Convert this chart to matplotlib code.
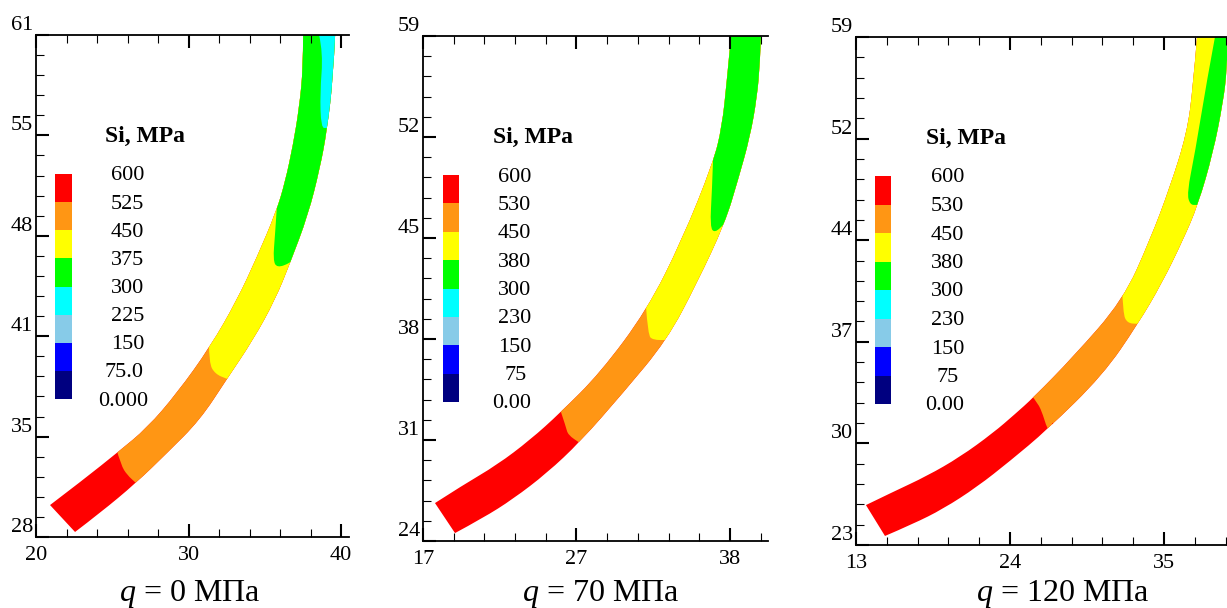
import matplotlib
matplotlib.use('Agg')
import matplotlib.pyplot as plt
from matplotlib.patches import PathPatch
from matplotlib.path import Path
from matplotlib.ticker import AutoMinorLocator
from matplotlib.transforms import ScaledTranslation

plt.rcParams['font.family'] = ['Liberation Serif', 'DejaVu Sans']
plt.rcParams['mathtext.fontset'] = 'custom'
plt.rcParams['mathtext.rm'] = 'Liberation Serif'
plt.rcParams['mathtext.it'] = 'Liberation Serif:italic'

W, H = 1227, 608
colors = ['#ff0000', '#ff9614', '#ffff00', '#00ff00', '#00ffff', '#87cbe8', '#0000ff', '#000080']

# --- q = 0
inner1_x = [20.92, 23.08, 25.38, 27.28, 29.25, 31.41, 33.18, 34.49, 35.74, 36.33, 36.85, 37.25, 37.51, 37.51]
inner1_y = [30.10, 31.75, 33.59, 35.17, 37.47, 40.49, 43.58, 46.41, 49.37, 51.34, 53.77, 56.21, 58.83, 61.00]
outer1_x = [39.61, 39.48, 39.08, 38.62, 37.84, 36.66, 35.67, 34.23, 32.52, 30.75, 28.59, 26.56, 24.20, 22.56]
outer1_y = [61.00, 58.18, 54.76, 52.26, 49.17, 46.01, 43.58, 40.95, 38.39, 35.69, 33.52, 31.55, 29.58, 28.33]
zones1 = [
    ('#ff9614', [25.25, 25.57, 25.97, 26.56, 26.95], [33.85, 32.73, 32.08, 31.55, 31.16]),
    ('#ffff00', [31.34, 31.34, 31.74, 32.52, 32.92], [40.82, 39.44, 38.72, 38.39, 38.26]),
    ('#00ff00', [35.80, 35.67, 35.54, 35.80, 36.66, 37.11], [49.83, 47.86, 46.21, 45.69, 46.01, 46.34]),
    ('#00ffff', [38.56, 38.82, 38.62, 38.69, 39.08, 39.93], [61.00, 59.82, 57.19, 54.89, 54.89, 54.89]),
]
xticks1 = [20, 30, 40]
xlabels1 = ['20', '30', '40']
yticks1 = [28, 34.6, 41.2, 47.8, 54.4, 61]
ylabels1 = ['28', '35', '41', '48', '55', '61']
levels1 = ['600', '525', '450', '375', '300', '225', '150', '75.0', '0.000']

# --- q = 70
inner2_x = [17.82, 19.74, 22.06, 24.32, 26.37, 29.11, 32.32, 34.72, 36.84, 37.45, 37.79, 38.07]
inner2_y = [26.63, 27.88, 29.27, 31.00, 32.87, 35.64, 40.01, 44.86, 50.20, 52.69, 55.95, 59.00]
outer2_x = [40.12, 40.05, 39.85, 39.37, 38.55, 37.66, 35.74, 33.69, 30.68, 27.74, 25.48, 23.16, 21.10, 19.19]
outer2_y = [59.00, 57.13, 54.77, 52.00, 49.02, 46.04, 41.88, 37.93, 34.26, 30.86, 28.71, 26.91, 25.59, 24.55]
zones2 = [
    ('#ff9614', [26.37, 26.78, 26.92, 27.74, 28.42], [33.15, 31.90, 31.35, 30.79, 30.31]),
    ('#ffff00', [32.25, 32.39, 32.73, 33.69, 34.58], [40.29, 38.28, 37.93, 37.93, 37.93]),
    ('#00ff00', [36.84, 36.77, 36.63, 36.97, 37.66, 38.34], [50.40, 48.32, 45.76, 45.34, 46.04, 46.59]),
]
xticks2 = [17, 27.5, 38]
xlabels2 = ['17', '27', '38']
yticks2 = [24, 31, 38, 45, 52, 59]
ylabels2 = ['24', '31', '38', '45', '52', '59']
levels2 = ['600', '530', '450', '380', '300', '230', '150', '75', '0.00']

# --- q = 120
inner3_x = [13.71, 15.64, 18.07, 20.43, 22.79, 24.36, 25.64, 28.50, 32.07, 34.00, 35.43, 36.64, 37.07, 37.36]
inner3_y = [25.83, 26.76, 27.89, 29.24, 30.94, 32.28, 33.42, 36.32, 40.36, 44.62, 48.37, 52.20, 55.46, 59.00]
outer3_x = [39.57, 39.50, 39.21, 38.50, 37.43, 36.36, 34.86, 33.14, 30.64, 26.64, 24.00, 21.64, 19.21, 17.07, 15.07]
outer3_y = [59.00, 56.66, 54.32, 50.78, 47.10, 44.62, 41.57, 38.66, 35.05, 31.15, 28.95, 27.11, 25.55, 24.49, 23.64]
zones3 = [
    ('#ff9614', [25.50, 26.00, 26.36, 26.64, 26.86, 27.21], [33.63, 33.06, 32.21, 31.29, 31.08, 30.44]),
    ('#ffff00', [32.00, 32.07, 32.36, 33.14, 34.00], [41.36, 39.44, 38.73, 38.66, 38.66]),
    ('#00ff00', [38.64, 38.07, 37.21, 36.64, 36.86, 37.36, 38.29], [59.00, 55.96, 50.78, 47.95, 47.10, 47.10, 47.10]),
]
spot3_x = [27.00, 27.29, 27.07]
spot3_y = [31.65, 31.58, 31.37]
xticks3 = [13, 24, 35]
xlabels3 = ['13', '24', '35']
yticks3 = [23, 30.2, 37.4, 44.6, 51.8, 59]
ylabels3 = ['23', '30', '37', '44', '52', '59']
levels3 = ['600', '530', '450', '380', '300', '230', '150', '75', '0.00']

captions = ['$q$ = 0 МПа', '$q$ = 70 МПа', '$q$ = 120 МПа']

panels = [
    dict(box=(36, 35, 349, 537), xlim=(20, 40.52), ylim=(28, 61),
         inner=(inner1_x, inner1_y), outer=(outer1_x, outer1_y), zones=zones1,
         xt=xticks1, xl=xlabels1, yt=yticks1, yl=ylabels1, lev=levels1,
         bar=(55, 174, 72, 399), title=(145, 136), right=[144] * 8 + [148], cap=190),
    dict(box=(423, 36, 768, 541), xlim=(17, 40.6), ylim=(24, 59),
         inner=(inner2_x, inner2_y), outer=(outer2_x, outer2_y), zones=zones2,
         xt=xticks2, xl=xlabels2, yt=yticks2, yl=ylabels2, lev=levels2,
         bar=(443, 175, 459, 402), title=(533, 137), right=[531] * 7 + [527, 531], cap=601),
    dict(box=(856, 37, 1227, 545), xlim=(13, 39.5), ylim=(23, 59),
         inner=(inner3_x, inner3_y), outer=(outer3_x, outer3_y), zones=zones3,
         xt=xticks3, xl=xlabels3, yt=yticks3, yl=ylabels3, lev=levels3,
         bar=(875, 176, 891, 404), title=(966, 138), right=[964] * 7 + [959, 964], cap=1063),
]

fig = plt.figure(figsize=(W / 100, H / 100), dpi=100)


def add_axes_px(l, t, r, b):
    return fig.add_axes([l / W, 1 - b / H, (r - l) / W, (b - t) / H])


def smooth_edge(xs, ys):
    # quadratic segments through the read points, so the edge has no kinks
    verts, codes = [], []
    for i in range(1, len(xs) - 1):
        if i == len(xs) - 2:
            end = (xs[i + 1], ys[i + 1])
        else:
            end = ((xs[i] + xs[i + 1]) / 2, (ys[i] + ys[i + 1]) / 2)
        verts += [(xs[i], ys[i]), end]
        codes += [Path.CURVE3, Path.CURVE3]
    return verts, codes


for n, p in enumerate(panels):
    ax = add_axes_px(*p['box'])
    ax.set_xlim(p['xlim'])
    ax.set_ylim(p['ylim'])

    # whole band in red, later zones painted over it and clipped to the band
    ix, iy = p['inner']
    ox, oy = p['outer']
    v1, c1 = smooth_edge(ix, iy)
    v2, c2 = smooth_edge(ox, oy)
    verts = [(ix[0], iy[0])] + v1 + [(ox[0], oy[0])] + v2 + [(ix[0], iy[0])]
    codes = [Path.MOVETO] + c1 + [Path.LINETO] + c2 + [Path.CLOSEPOLY]
    band = PathPatch(Path(verts, codes), facecolor=colors[0], lw=0)
    ax.add_patch(band)
    x0, x1 = p['xlim']
    y0, y1 = p['ylim']
    for color, zx, zy in p['zones']:
        v, c = smooth_edge(zx, zy)
        verts = [(zx[0], zy[0])] + v + [(x1, y0), (x1, y1), (x0, y1), (zx[0], zy[0])]
        codes = [Path.MOVETO] + c + [Path.LINETO] * 3 + [Path.CLOSEPOLY]
        poly = PathPatch(Path(verts, codes), facecolor=color, lw=0)
        ax.add_patch(poly)
        poly.set_clip_path(band)
    if n == 2:
        spot = ax.fill(spot3_x, spot3_y, color=colors[0], lw=0)[0]
        spot.set_clip_path(band)

    ax.spines['right'].set_visible(False)
    for s in ['left', 'top', 'bottom']:
        ax.spines[s].set_linewidth(1.3)
    ax.set_xticks(p['xt'], labels=p['xl'])
    ax.set_yticks(p['yt'], labels=p['yl'])
    ax.xaxis.set_minor_locator(AutoMinorLocator(5))
    ax.yaxis.set_minor_locator(AutoMinorLocator(5))
    ax.tick_params(which='major', direction='in', length=9.5, width=1.5, top=True, labelsize=16)
    ax.tick_params(which='minor', direction='in', length=5.8, width=0.8, top=True)
    ax.tick_params(axis='x', which='major', pad=6.5)
    ax.tick_params(axis='y', which='major', pad=2)
    up = ScaledTranslation(0, 12 / 100, fig.dpi_scale_trans)
    for lab in ax.get_yticklabels():
        lab.set_transform(lab.get_transform() + up)

    # legend
    l, t, r, b = p['bar']
    cax = add_axes_px(l, t, r, b)
    for i, c in enumerate(colors):
        cax.bar(0, 1, bottom=7 - i, width=1, color=c, lw=0)
    cax.set_xlim(-0.5, 0.5)
    cax.set_ylim(0, 8)
    cax.axis('off')
    for i, lev in enumerate(p['lev']):
        y = t + i * (b - t) / 8 + 2
        fig.text(p['right'][i] / W, 1 - y / H, lev, ha='right', va='center', fontsize=16)
    fig.text(p['title'][0] / W, 1 - p['title'][1] / H, 'Si, MPa', ha='center', va='center',
             fontsize=17, fontweight='bold')
    fig.text(p['cap'] / W, 1 - 594 / H, captions[n], ha='center', va='center', fontsize=23)

fig.savefig('out.png', dpi=100)
